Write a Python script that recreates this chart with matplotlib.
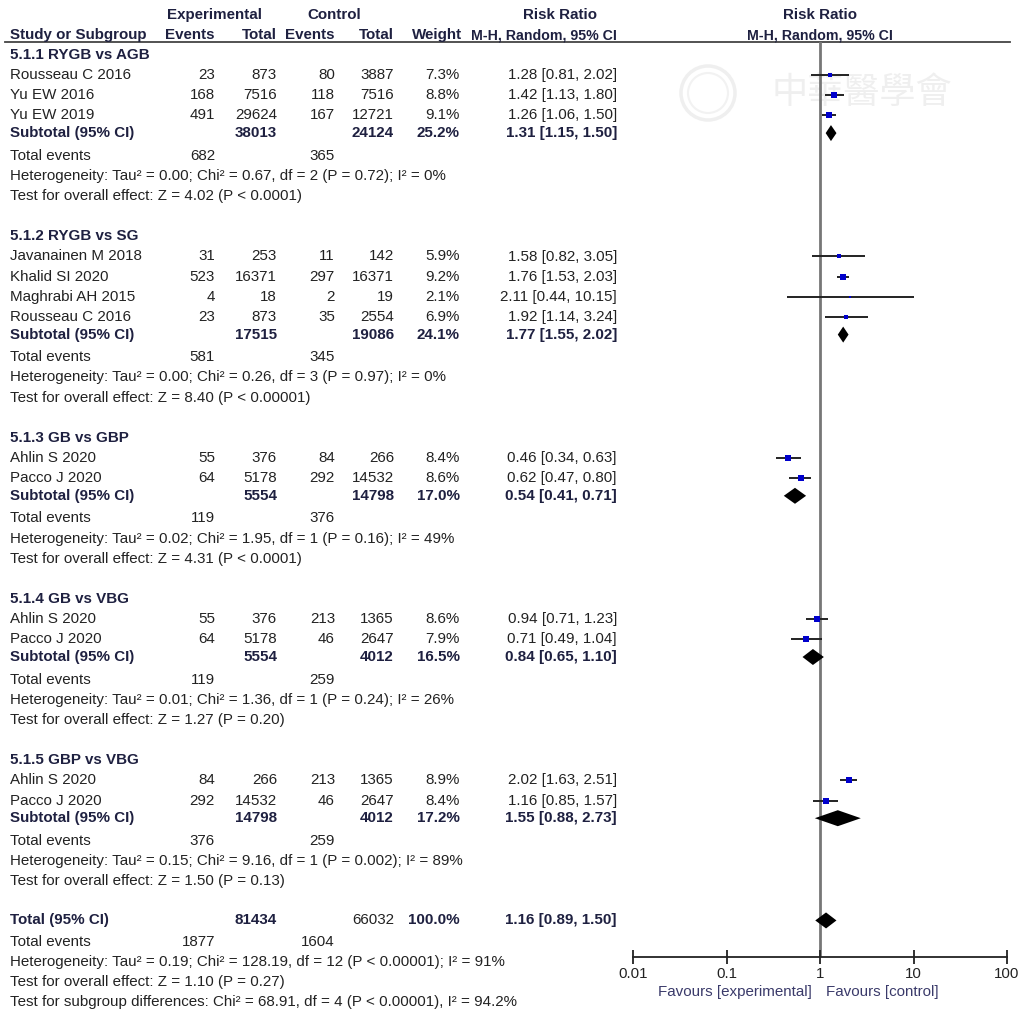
#!/usr/bin/env python3
"""
Forest plot - risk ratio by procedure comparison (RevMan style)
"""

import matplotlib
matplotlib.use("Agg")
import matplotlib.pyplot as plt
from matplotlib.patches import Polygon, Circle

# ---- data ----
studies = [
    "Rousseau C 2016", "Yu EW 2016", "Yu EW 2019",
    "Javanainen M 2018", "Khalid SI 2020", "Maghrabi AH 2015", "Rousseau C 2016",
    "Ahlin S 2020", "Pacco J 2020",
    "Ahlin S 2020", "Pacco J 2020",
    "Ahlin S 2020", "Pacco J 2020",
]
study_group = [0, 0, 0, 1, 1, 1, 1, 2, 2, 3, 3, 4, 4]
exp_events = [23, 168, 491, 31, 523, 4, 23, 55, 64, 55, 64, 84, 292]
exp_total = [873, 7516, 29624, 253, 16371, 18, 873, 376, 5178, 376, 5178, 266, 14532]
ctrl_events = [80, 118, 167, 11, 297, 2, 35, 84, 292, 213, 46, 213, 46]
ctrl_total = [3887, 7516, 12721, 142, 16371, 19, 2554, 266, 14532, 1365, 2647, 1365, 2647]
weights = [7.3, 8.8, 9.1, 5.9, 9.2, 2.1, 6.9, 8.4, 8.6, 8.6, 7.9, 8.9, 8.4]
rr = [1.28, 1.42, 1.26, 1.58, 1.76, 2.11, 1.92, 0.46, 0.62, 0.94, 0.71, 2.02, 1.16]
rr_lo = [0.81, 1.13, 1.06, 0.82, 1.53, 0.44, 1.14, 0.34, 0.47, 0.71, 0.49, 1.63, 0.85]
rr_hi = [2.02, 1.80, 1.50, 3.05, 2.03, 10.15, 3.24, 0.63, 0.80, 1.23, 1.04, 2.51, 1.57]

groups = ["5.1.1 RYGB vs AGB", "5.1.2 RYGB vs SG", "5.1.3 GB vs GBP",
          "5.1.4 GB vs VBG", "5.1.5 GBP vs VBG"]
sub_exp_total = [38013, 17515, 5554, 5554, 14798]
sub_ctrl_total = [24124, 19086, 14798, 4012, 4012]
sub_weight = [25.2, 24.1, 17.0, 16.5, 17.2]
sub_rr = [1.31, 1.77, 0.54, 0.84, 1.55]
sub_lo = [1.15, 1.55, 0.41, 0.65, 0.88]
sub_hi = [1.50, 2.02, 0.71, 1.10, 2.73]
sub_exp_events = [682, 581, 119, 119, 376]
sub_ctrl_events = [365, 345, 376, 259, 259]
sub_het = [
    "Heterogeneity: Tau\u00b2 = 0.00; Chi\u00b2 = 0.67, df = 2 (P = 0.72); I\u00b2 = 0%",
    "Heterogeneity: Tau\u00b2 = 0.00; Chi\u00b2 = 0.26, df = 3 (P = 0.97); I\u00b2 = 0%",
    "Heterogeneity: Tau\u00b2 = 0.02; Chi\u00b2 = 1.95, df = 1 (P = 0.16); I\u00b2 = 49%",
    "Heterogeneity: Tau\u00b2 = 0.01; Chi\u00b2 = 1.36, df = 1 (P = 0.24); I\u00b2 = 26%",
    "Heterogeneity: Tau\u00b2 = 0.15; Chi\u00b2 = 9.16, df = 1 (P = 0.002); I\u00b2 = 89%",
]
sub_test = [
    "Test for overall effect: Z = 4.02 (P < 0.0001)",
    "Test for overall effect: Z = 8.40 (P < 0.00001)",
    "Test for overall effect: Z = 4.31 (P < 0.0001)",
    "Test for overall effect: Z = 1.27 (P = 0.20)",
    "Test for overall effect: Z = 1.50 (P = 0.13)",
]

total_exp_total, total_ctrl_total = 81434, 66032
total_rr, total_lo, total_hi = 1.16, 0.89, 1.50
total_exp_events, total_ctrl_events = 1877, 1604
total_het = "Heterogeneity: Tau\u00b2 = 0.19; Chi\u00b2 = 128.19, df = 12 (P < 0.00001); I\u00b2 = 91%"
total_test = "Test for overall effect: Z = 1.10 (P = 0.27)"
total_subgroup = "Test for subgroup differences: Chi\u00b2 = 68.91, df = 4 (P < 0.00001), I\u00b2 = 94.2%"

# ---- layout (pixel coords) ----
W, H = 1020, 1014
ROW0, ROW = 55, 20.15
SUB_SHIFT = -2.5
X_NAME, X_EE, X_ET, X_CE, X_CT, X_W, X_RR = 10, 215, 277, 335, 394, 460, 617
AX_L, AX_R, AX_TOP, AX_BOT = 633, 1007, 42, 957

TXT = "#222222"
BOLD = "#1e2040"
FS = 10.9

plt.rcParams["font.family"] = ["Liberation Sans", "DejaVu Sans"]

fig = plt.figure(figsize=(W / 100, H / 100), dpi=100)
ax = fig.add_axes([0, 0, 1, 1])
ax.set_xlim(0, W)
ax.set_ylim(H, 0)
ax.axis("off")

fx = fig.add_axes([AX_L / W, 1 - AX_BOT / H, (AX_R - AX_L) / W, (AX_BOT - AX_TOP) / H])
fx.patch.set_alpha(0)
fx.set_xscale("log")
fx.set_xlim(0.01, 100)
fx.set_ylim(AX_BOT, AX_TOP)


def row_y(i):
    return ROW0 + i * ROW


def t(x, y, s, ha="left", bold=False, color=None, size=FS):
    ax.text(x, y, s, ha=ha, va="center", fontsize=size,
            fontweight="bold" if bold else "normal",
            color=color or (BOLD if bold else TXT))


# watermark
ax.add_patch(Circle((708, 93), 27, fill=False, ec="#efefef", lw=2.5, zorder=0))
ax.add_patch(Circle((708, 93), 20, fill=False, ec="#f2f2f2", lw=1.5, zorder=0))
ax.text(862, 93, "中華醫學會", fontsize=26, color="#efefef", ha="center", va="center",
        family=["Noto Sans CJK TC", "DejaVu Sans"], zorder=0)

# header
t(215, 15, "Experimental", ha="center", bold=True)
t(334, 15, "Control", ha="center", bold=True)
t(560, 15, "Risk Ratio", ha="center", bold=True)
t(820, 15, "Risk Ratio", ha="center", bold=True)
t(X_NAME, 35, "Study or Subgroup", bold=True)
t(X_EE, 35, "Events", ha="right", bold=True)
t(X_ET, 35, "Total", ha="right", bold=True)
t(X_CE, 35, "Events", ha="right", bold=True)
t(X_CT, 35, "Total", ha="right", bold=True)
t(X_W + 2, 35, "Weight", ha="right", bold=True)
t(X_RR, 35, "M-H, Random, 95% CI", ha="right", bold=True, size=FS * 0.93)
t(820, 35, "M-H, Random, 95% CI", ha="center", bold=True, size=FS * 0.93)
ax.plot([5, 1010], [AX_TOP, AX_TOP], color="#444444", lw=1.3)

# body
row = 0
for g, title in enumerate(groups):
    t(X_NAME, row_y(row), title, bold=True)
    row += 1
    for k in [i for i, sg in enumerate(study_group) if sg == g]:
        y = row_y(row)
        t(X_NAME, y, studies[k])
        t(X_EE, y, f"{exp_events[k]}", ha="right")
        t(X_ET, y, f"{exp_total[k]}", ha="right")
        t(X_CE, y, f"{ctrl_events[k]}", ha="right")
        t(X_CT, y, f"{ctrl_total[k]}", ha="right")
        t(X_W, y, f"{weights[k]:.1f}%", ha="right")
        t(X_RR, y, f"{rr[k]:.2f} [{rr_lo[k]:.2f}, {rr_hi[k]:.2f}]", ha="right")
        fx.plot([rr_lo[k], rr_hi[k]], [y, y], color="#222222", lw=1.4, solid_capstyle="butt")
        side = 1.85 * weights[k] ** 0.5
        fx.plot([rr[k]], [y], marker="s", ms=side * 0.72, color="#0000cc", mew=0)
        row += 1
    y = row_y(row) + SUB_SHIFT
    t(X_NAME, y, "Subtotal (95% CI)", bold=True)
    t(X_ET, y, f"{sub_exp_total[g]}", ha="right", bold=True)
    t(X_CT, y, f"{sub_ctrl_total[g]}", ha="right", bold=True)
    t(X_W, y, f"{sub_weight[g]:.1f}%", ha="right", bold=True)
    t(X_RR, y, f"{sub_rr[g]:.2f} [{sub_lo[g]:.2f}, {sub_hi[g]:.2f}]", ha="right", bold=True)
    fx.add_patch(Polygon([(sub_lo[g], y), (sub_rr[g], y - 8), (sub_hi[g], y), (sub_rr[g], y + 8)],
                         closed=True, color="black", lw=0))
    row += 1
    y = row_y(row)
    t(X_NAME, y, "Total events")
    t(X_EE, y, f"{sub_exp_events[g]}", ha="right")
    t(X_CE, y, f"{sub_ctrl_events[g]}", ha="right")
    row += 1
    t(X_NAME, row_y(row), sub_het[g])
    row += 1
    t(X_NAME, row_y(row), sub_test[g])
    row += 2

# overall
y = row_y(row) - 1
t(X_NAME, y, "Total (95% CI)", bold=True)
t(X_ET, y, f"{total_exp_total}", ha="right", bold=True)
t(X_CT, y, f"{total_ctrl_total}", ha="right")
t(X_W, y, "100.0%", ha="right", bold=True)
t(X_RR, y, f"{total_rr:.2f} [{total_lo:.2f}, {total_hi:.2f}]", ha="right", bold=True)
fx.add_patch(Polygon([(total_lo, y), (total_rr, y - 8), (total_hi, y), (total_rr, y + 8)],
                     closed=True, color="black", lw=0))
row += 1
t(X_NAME, row_y(row), "Total events")
t(X_EE, row_y(row), f"{total_exp_events}", ha="right")
t(X_CE, row_y(row), f"{total_ctrl_events}", ha="right")
row += 1
t(X_NAME, row_y(row), total_het)
row += 1
t(X_NAME, row_y(row), total_test)
row += 1
t(X_NAME, row_y(row), total_subgroup)

# forest axis
fx.axvline(1, color="#777777", lw=2, zorder=0)
for side in ["top", "right", "left"]:
    fx.spines[side].set_visible(False)
fx.spines["bottom"].set_color("#222222")
fx.spines["bottom"].set_linewidth(1.3)
fx.set_yticks([])
fx.set_xticks([0.01, 0.1, 1, 10, 100])
fx.set_xticklabels(["0.01", "0.1", "1", "10", "100"])
fx.minorticks_off()
fx.tick_params(axis="x", direction="inout", length=10, width=1.3, color="#222222",
               labelsize=FS, labelcolor=TXT, pad=2)

t(812, 992, "Favours [experimental]", ha="right", color="#3a3a6a")
t(826, 992, "Favours [control]", color="#3a3a6a")

fig.savefig("out.png", dpi=100, facecolor="white")
